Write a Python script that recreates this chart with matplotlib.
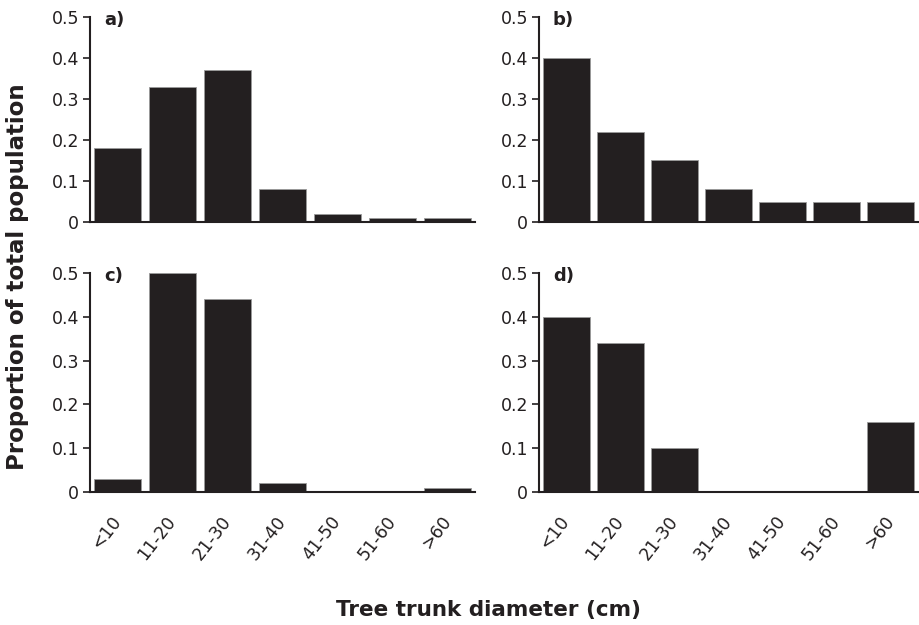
import matplotlib
matplotlib.use("Agg")
import matplotlib.pyplot as plt
import numpy as np

categories = ["<10", "11-20", "21-30", "31-40", "41-50", "51-60", ">60"]
panel_a = [0.18, 0.33, 0.37, 0.08, 0.02, 0.01, 0.01]
panel_b = [0.40, 0.22, 0.15, 0.08, 0.05, 0.05, 0.05]
panel_c = [0.03, 0.50, 0.44, 0.02, 0.0, 0.0, 0.01]
panel_d = [0.40, 0.34, 0.10, 0.0, 0.0, 0.0, 0.16]
panel_labels = ["a)", "b)", "c)", "d)"]
yticks = [0, 0.1, 0.2, 0.3, 0.4, 0.5]
ytick_labels = ["0", "0.1", "0.2", "0.3", "0.4", "0.5"]

plt.rcParams['font.family'] = ['DejaVu Sans']
dark = '#231f20'

W, H = 920, 625
fig = plt.figure(figsize=(W / 100, H / 100), dpi=100)

def rect(x0, x1, ytop, ybot):
    return [x0 / W, 1 - ybot / H, (x1 - x0) / W, (ybot - ytop) / H]

rects = [rect(90, 475, 17, 222), rect(539, 918, 17, 222),
         rect(90, 475, 273, 492), rect(539, 918, 273, 492)]
data = [panel_a, panel_b, panel_c, panel_d]

x = np.arange(len(categories))
for i, (r, vals, lab) in enumerate(zip(rects, data, panel_labels)):
    ax = fig.add_axes(r)
    ax.bar(x, vals, width=0.87, color=dark, edgecolor='#9a9a9a', linewidth=0.6)
    ax.set_xlim(-0.5, 6.5)
    ax.set_ylim(0, 0.5)
    for s in ['top', 'right']:
        ax.spines[s].set_visible(False)
    for s in ['left', 'bottom']:
        ax.spines[s].set_color(dark)
        ax.spines[s].set_linewidth(1.5)
    ax.set_yticks(yticks)
    ax.set_yticklabels(ytick_labels, fontsize=12.5, color=dark)
    ax.tick_params(axis='y', direction='out', length=5, width=1.2, color=dark, pad=3)
    ax.set_xticks(x)
    if i >= 2:
        ax.set_xticklabels(categories, rotation=52, ha='right', va='center',
                           rotation_mode='anchor', fontsize=12.5, color=dark)
        ax.tick_params(axis='x', length=0, pad=19)
    else:
        ax.set_xticklabels([])
        ax.tick_params(axis='x', length=0)
    ax.annotate(lab, xy=(0, 1), xycoords='axes fraction', xytext=(10, 4),
                textcoords='offset points', fontsize=13, fontweight='bold',
                color=dark, ha='left', va='top')

fig.text(18 / W, 1 - 277 / H, "Proportion of total population", rotation=90,
         fontsize=16.5, fontweight='bold', color=dark, ha='center', va='center')
fig.text(488 / W, 1 - 610 / H, "Tree trunk diameter (cm)",
         fontsize=15.5, fontweight='bold', color=dark, ha='center', va='center')

fig.savefig("out.png", dpi=100)
